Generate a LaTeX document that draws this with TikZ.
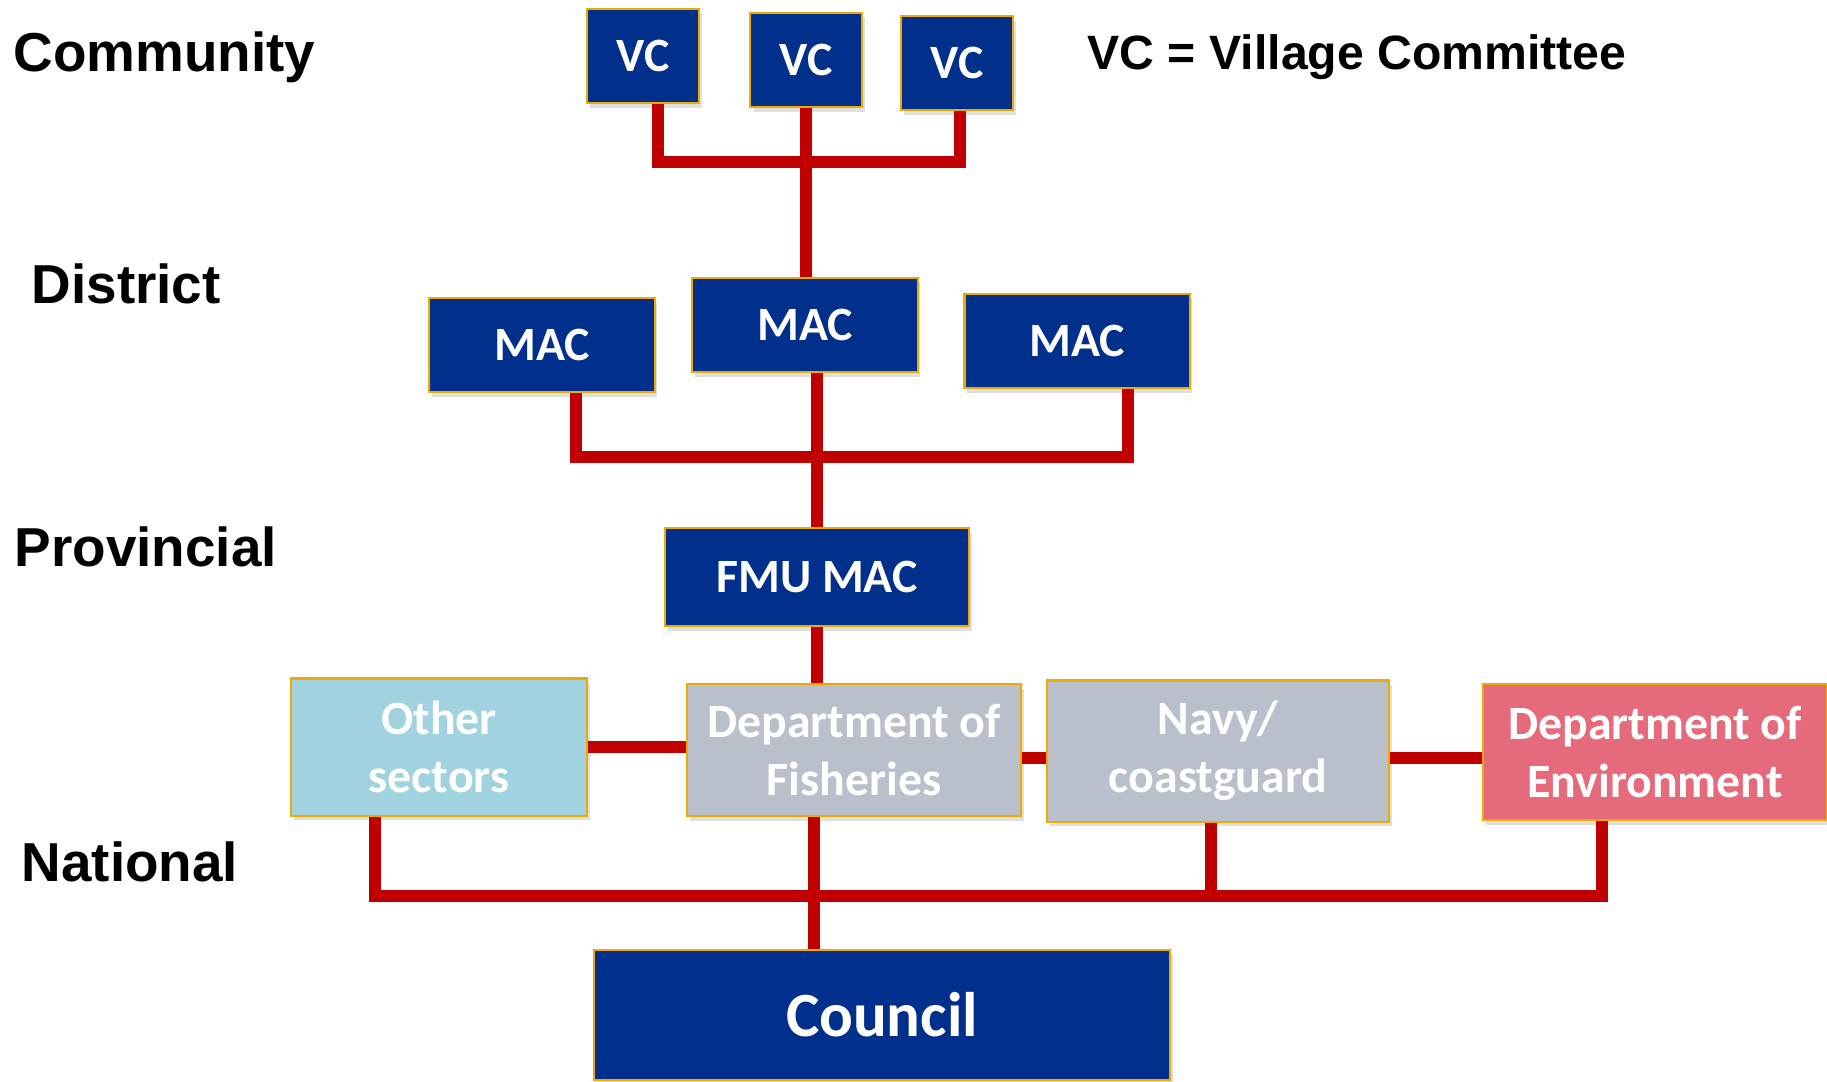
\documentclass[tikz,border=0pt]{standalone}
\usepackage{fontspec}
\setmainfont{Carlito}
\newfontfamily\labelfont{Liberation Sans}
\usetikzlibrary{shadows}

\definecolor{boxblue}{RGB}{0,48,140}
\definecolor{boxedge}{RGB}{237,170,0}
\definecolor{linkred}{RGB}{192,0,0}
\definecolor{otherblue}{RGB}{160,210,223}
\definecolor{deptgray}{RGB}{185,191,203}
\definecolor{envpink}{RGB}{229,106,124}

\tikzset{
	box/.style={draw=boxedge, line width=0.6pt, fill=boxblue, text=white, align=center, inner sep=0pt,
		font=\bfseries\fontsize{13.6}{16.5}\selectfont,
		drop shadow={opacity=0.25, shadow xshift=0.8pt, shadow yshift=-1.4pt}},
	vcbox/.style={box, minimum width=1.12cm, minimum height=0.94cm},
	macbox/.style={box, minimum width=2.25cm, minimum height=0.94cm},
	deptbox/.style={box, fill=deptgray},
	link/.style={draw=linkred, line width=3.4pt},
	level/.style={anchor=base west, inner sep=0pt, font=\labelfont\bfseries\fontsize{15.6}{18}\selectfont},
}

\begin{document}
\begin{tikzpicture}[x=0.01cm, y=-0.01cm]
		%%%%% START %%%%%
		\useasboundingbox (0, 0) rectangle (1827, 1081);
		
		\node[level] (community) at (13, 71) {Community};
		\node[level] (district) at (31, 303) {District};
		\node[level] (provincial) at (14, 566) {Provincial};
		\node[level] (national) at (21, 881) {National};
		\node[level, font=\labelfont\bfseries\fontsize{13.7}{16}\selectfont] (key) at (1087, 69) {VC = Village Committee};
		
		\node[vcbox] (vc1) at (643, 56) {VC};
		\node[vcbox] (vc2) at (806, 60) {VC};
		\node[vcbox] (vc3) at (957, 63) {VC};
		
		\node[macbox] (mac1) at (542, 345) {MAC};
		\node[macbox] (mac2) at (805, 325) {MAC};
		\node[macbox] (mac3) at (1077, 341) {MAC};
		
		\node[box, minimum width=3.04cm, minimum height=0.98cm] (fmu) at (817, 577) {FMU MAC};
		
		\node[box, fill=otherblue, minimum width=2.96cm, minimum height=1.37cm] (other) at (439, 747) {Other\\sectors};
		\node[deptbox, minimum width=3.34cm, minimum height=1.32cm] (fish) at (854, 750) {Department of\\Fisheries};
		\node[deptbox, minimum width=3.42cm, minimum height=1.41cm] (navy) at (1218, 751) {Navy/\\coastguard};
		\node[box, fill=envpink, minimum width=3.43cm, minimum height=1.36cm] (env) at (1655, 752) {Department of\\Environment};
		
		\node[box, minimum width=5.76cm, minimum height=1.30cm, font=\bfseries\fontsize{17.9}{21}\selectfont] (council) at (882, 1015) {Council};
		
		% community to district
		\coordinate (vcbus) at (806, 162);
		\draw[link] ([shift={(15,0)}]vc1.south) |- (vcbus) -| ([shift={(3,0)}]vc3.south);
		\draw[link] (vc2.south) -- (vcbus) -- (vcbus |- mac2.north);
		
		% district to provincial
		\coordinate (macbus) at (817, 457);
		\draw[link] ([shift={(34,0)}]mac1.south) |- (macbus) -| ([shift={(51,0)}]mac3.south);
		\draw[link] (mac2.south -| fmu.north) -- (fmu.north);
		\draw[link] (fmu.south) -- (fmu.south |- fish.north);
		
		% national row
		\coordinate (fishnavy) at ([shift={(0,8)}]fish.east);
		\coordinate (navyenv) at ([shift={(0,7)}]navy.east);
		\draw[link] (other.east) -- (other.east -| fish.west);
		\draw[link] (fishnavy) -- (fishnavy -| navy.west);
		\draw[link] (navyenv) -- (navyenv -| env.west);
		
		\coordinate (natbus) at (814, 896);
		\draw[link] ([shift={(-64,0)}]other.south) |- (natbus) -| ([shift={(-53,0)}]env.south);
		\draw[link] ([shift={(-7,0)}]navy.south) |- (natbus);
		\draw[link] ([shift={(-40,0)}]fish.south) -- (natbus) -- (natbus |- council.north);
		
		%%%%% END %%%%%
\end{tikzpicture}
\end{document}
